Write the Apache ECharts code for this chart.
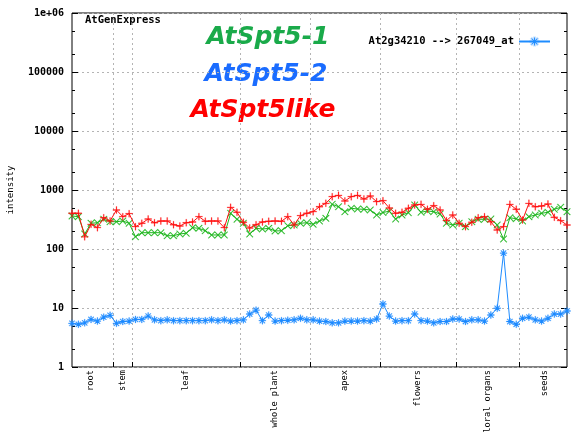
<!DOCTYPE html>
<html>
<head>
<meta charset="utf-8">
<script src="https://cdn.jsdelivr.net/npm/echarts@6/dist/echarts.min.js"></script>
<style>
html, body { margin: 0; padding: 0; background: #fff; }
#main { width: 571px; height: 433px; }
</style>
</head>
<body>
<div id="main"></div>
<script>
// tissue groups along the x axis (sample index 0..78)
var groupNames = ['root', 'stem', 'leaf', 'whole plant', 'apex', 'flowers', 'floral organs', 'seeds'];
var groupCenters = [3, 8, 18, 32, 43, 54.5, 65.5, 74.5];
var groupBounds = [6.5, 9.5, 26.5, 37.5, 48.5, 60.5, 70.5];

// log axis decades
var yTicks = [1, 10, 100, 1000, 10000, 100000, 1000000];

// AtSpt5-1 (green)
var spt51 = [363, 353, 180, 273, 279, 319, 290, 290, 298, 273,
             161, 189, 189, 189, 189, 168, 168, 180, 185, 230,
             224, 204, 173, 173, 173, 403, 319, 273, 180, 224,
             218, 224, 202, 204, 248, 255, 273, 279, 262, 298,
             331, 572, 521, 429, 490, 476, 471, 458, 377, 416,
             437, 322, 377, 412, 557, 419, 441, 429, 392, 273,
             255, 273, 239, 290, 319, 319, 322, 255, 148, 339,
             326, 298, 353, 377, 403, 419, 471, 509, 429];

// AtSpt5-2 (blue, the probe set in the legend)
var spt52 = [5.5, 5.3, 5.6, 6.4, 6.0, 7.0, 7.5, 5.5, 5.9, 6.0,
             6.4, 6.4, 7.3, 6.3, 6.1, 6.3, 6.1, 6.1, 6.1, 6.1,
             6.1, 6.1, 6.3, 6.1, 6.3, 6.0, 6.1, 6.3, 7.9, 9.2,
             6.1, 7.6, 6.0, 6.1, 6.2, 6.3, 6.7, 6.3, 6.3, 6.0,
             5.9, 5.6, 5.6, 6.0, 6.0, 6.0, 6.1, 6.0, 6.5, 11.7,
             7.3, 6.0, 6.1, 6.1, 7.9, 6.1, 6.0, 5.6, 5.9, 5.9,
             6.5, 6.5, 5.9, 6.3, 6.3, 6.0, 7.6, 9.9, 85, 5.9,
             5.3, 6.7, 7.0, 6.3, 6.0, 6.7, 7.9, 7.9, 8.9];

// AtSpt5like (red)
var spt5like = [403, 403, 161, 262, 230, 339, 298, 458, 353, 397,
                239, 273, 322, 279, 298, 298, 258, 245, 279, 287,
                353, 295, 298, 298, 230, 509, 419, 284, 227, 258,
                287, 295, 298, 295, 353, 255, 367, 403, 429, 521,
                595, 770, 813, 651, 770, 813, 704, 791, 634, 659,
                495, 403, 419, 490, 557, 572, 471, 542, 458, 302,
                377, 273, 239, 284, 339, 353, 290, 210, 239, 572,
                471, 310, 595, 521, 535, 579, 345, 302, 255];

var probeName = 'At2g34210 --> 267049_at';

var PLUS = 'path://M4.4,0h1.2v4.4h4.4v1.2h-4.4v4.4h-1.2v-4.4h-4.4v-1.2h4.4z';
var CROSS = 'path://M0,0.8L0.8,0L5,4.2L9.2,0L10,0.8L5.8,5L10,9.2L9.2,10L5,5.8L0.8,10L0,9.2L4.2,5Z';
var STAR = 'path://M4.4,0h1.2v4.4h4.4v1.2h-4.4v4.4h-1.2v-4.4h-4.4v-1.2h4.4z' +
           'M0.9,1.7L1.7,0.9L5,4.2L8.3,0.9L9.1,1.7L5.8,5L9.1,8.3L8.3,9.1L5,5.8L1.7,9.1L0.9,8.3L4.2,5Z';

var mono = 'DejaVu Sans Mono';

function toPoints(arr) {
    return arr.map(function (v, i) { return [i, v]; });
}

// minor ticks at 2 and 5 of each decade, on a linear helper axis in exponent units
var minorTicks = [];
for (var k = 0; k < 6; k++) {
    minorTicks.push(k + Math.log10(2), k + Math.log10(5));
}

function makeSeries(name, data, color, halo, symbol, z) {
    return {
        name: name,
        type: 'line',
        data: toPoints(data),
        symbol: symbol,
        symbolSize: 7,
        showSymbol: true,
        z: z,
        lineStyle: { width: 1, color: color },
        itemStyle: { color: color, borderColor: halo, borderWidth: 1 },
        emphasis: { disabled: true },
        animation: false
    };
}

var myChart = echarts.init(document.getElementById('main'));

var dashed = { type: [2, 3], color: '#b4b4b4', width: 1 };

var option = {
    backgroundColor: '#fff',
    animation: false,
    grid: {
        left: 72, right: 4, top: 13, bottom: 66,
        outerBoundsMode: 'none',
        containLabel: false,
        show: true, borderColor: '#000', borderWidth: 1,
        backgroundColor: 'transparent'
    },
    legend: {
        data: [{ name: probeName }],
        right: 15, top: 31,
        align: 'right',
        itemWidth: 31, itemHeight: 10,
        textStyle: { fontFamily: mono, fontWeight: 'bold', fontSize: 10.5, color: '#000' }
    },
    xAxis: [{
        type: 'value', min: 0, max: 78,
        axisLine: { show: false },
        axisTick: { customValues: groupBounds, inside: true, length: 5, lineStyle: { color: '#000' } },
        splitLine: { show: true, lineStyle: dashed },
        axisLabel: {
            customValues: groupCenters,
            rotate: 90, margin: 3,
            fontFamily: mono, fontSize: 8.7, color: '#000',
            formatter: function (v) {
                return groupNames[groupCenters.indexOf(v)];
            }
        }
    }],
    yAxis: [{
        type: 'log', logBase: 10, min: 1, max: 1000000,
        position: 'left',
        name: 'intensity', nameLocation: 'middle', nameGap: 57,
        nameTextStyle: { fontFamily: mono, fontSize: 9, color: '#000' },
        axisLine: { show: false },
        axisTick: { inside: true, length: 6, lineStyle: { color: '#000' } },
        splitLine: { show: true, lineStyle: dashed },
        axisLabel: {
            margin: 8, fontFamily: mono, fontWeight: 'bold', fontSize: 10, color: '#000',
            formatter: function (v) {
                return v >= 1000000 ? '1e+06' : String(Math.round(v));
            }
        }
    }, {
        type: 'log', logBase: 10, min: 1, max: 1000000,
        position: 'right',
        axisLine: { show: false },
        axisTick: { inside: true, length: 6, lineStyle: { color: '#000' } },
        axisLabel: { show: false },
        splitLine: { show: false }
    }, {
        type: 'value', min: 0, max: 6, position: 'left',
        axisLine: { show: false },
        axisTick: { customValues: minorTicks, inside: true, length: 3, lineStyle: { color: '#000' } },
        axisLabel: { show: false },
        splitLine: { show: false }
    }, {
        type: 'value', min: 0, max: 6, position: 'right',
        axisLine: { show: false },
        axisTick: { customValues: minorTicks, inside: true, length: 3, lineStyle: { color: '#000' } },
        axisLabel: { show: false },
        splitLine: { show: false }
    }],
    graphic: [{
        type: 'text', x: 85, y: 20,
        style: { text: 'AtGenExpress', font: 'bold 10.5px "DejaVu Sans Mono"', fill: '#000', verticalAlign: 'middle' }
    }, {
        type: 'text', x: 268, y: 37,
        style: { text: 'AtSpt5-1', font: 'italic bold 25px "DejaVu Sans"', fill: '#1aaa4a', align: 'center', verticalAlign: 'middle' }
    }, {
        type: 'text', x: 266, y: 74,
        style: { text: 'AtSpt5-2', font: 'italic bold 25px "DejaVu Sans"', fill: '#1a6cff', align: 'center', verticalAlign: 'middle' }
    }, {
        type: 'text', x: 263, y: 110,
        style: { text: 'AtSpt5like', font: 'italic bold 25px "DejaVu Sans"', fill: '#ff0000', align: 'center', verticalAlign: 'middle' }
    }],
    series: [
        makeSeries(probeName, spt52, '#1e8cff', 'rgba(30,140,255,0.25)', STAR, 3),
        makeSeries('AtSpt5-1', spt51, '#1db51d', 'rgba(29,181,29,0.22)', CROSS, 4),
        makeSeries('AtSpt5like', spt5like, '#ff1010', 'rgba(255,16,16,0.22)', PLUS, 5)
    ]
};

myChart.setOption(option);
</script>
</body>
</html>
